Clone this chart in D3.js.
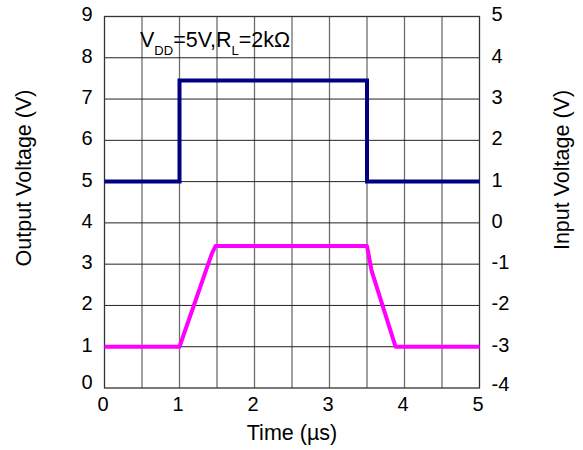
<!DOCTYPE html>
<html>
<head>
<meta charset="utf-8">
<script src="https://cdn.jsdelivr.net/npm/d3@7"></script>
<style>
  body { margin: 0; background: #fff; }
  svg text { font-family: "Liberation Sans", Arial, sans-serif; fill: #000; }
</style>
</head>
<body>
<svg width="583" height="450"></svg>
<script>
const [WIDTH, HEIGHT] = [583, 450];
const [LEFT, RIGHT, TOP, BOTTOM] = [104.5, 479.5, 16.5, 388];
const FONT = "20px";
const TITLE_FONT = "21.5px";

// data (time in µs, voltage on left axis)
const timeTicks = [0, 1, 2, 3, 4, 5];
const leftTicks = [0, 1, 2, 3, 4, 5, 6, 7, 8, 9];
const rightTicks = [-4, -3, -2, -1, 0, 1, 2, 3, 4, 5];
const gridX = [0.5, 1, 1.5, 2, 2.5, 3, 3.5, 4, 4.5];

const outTime = [0, 1, 1, 3.5, 3.5, 5];
const outVolt = [5, 5, 7.45, 7.45, 5, 5];

const inTime = [0, 1, 1.43, 1.48, 3.5, 3.56, 3.88, 5];
const inVolt = [1, 1, 3.25, 3.44, 3.44, 2.85, 1, 1];

const svg = d3.select("svg").attr("viewBox", `0 0 ${WIDTH} ${HEIGHT}`);

const x = d3.scaleLinear().domain([0, 5]).range([LEFT, RIGHT]);
const yL = d3.scaleLinear().domain([0, 9]).range([BOTTOM, TOP]);
const yR = d3.scaleLinear().domain([-4, 5]).range([BOTTOM, TOP]);

// grid
svg.append("g")
  .selectAll("line")
  .data(gridX)
  .enter()
  .append("line")
  .attr("x1", (d) => x(d))
  .attr("x2", (d) => x(d))
  .attr("y1", TOP)
  .attr("y2", BOTTOM)
  .attr("stroke", "#6e6e6e")
  .attr("stroke-width", 1.3);

svg.append("g")
  .selectAll("line")
  .data(leftTicks.slice(1, -1))
  .enter()
  .append("line")
  .attr("x1", LEFT)
  .attr("x2", RIGHT)
  .attr("y1", (d) => yL(d))
  .attr("y2", (d) => yL(d))
  .attr("stroke", "#222")
  .attr("stroke-width", 1);

// frame
svg.append("rect")
  .attr("x", LEFT)
  .attr("y", TOP)
  .attr("width", RIGHT - LEFT)
  .attr("height", BOTTOM - TOP)
  .attr("fill", "none")
  .attr("stroke", "#333")
  .attr("stroke-width", 1.3);

// axes
const styleAxis = (g) => {
  g.attr("font-size", null).attr("font-family", null);
  g.select(".domain").remove();
  g.selectAll(".tick line").remove();
  g.selectAll(".tick text")
    .style("font-size", FONT)
    .attr("fill", "#000");
};

svg.append("g")
  .attr("transform", `translate(0,${BOTTOM})`)
  .call(d3.axisBottom(x).tickValues(timeTicks).tickFormat((d) => `${d}`).tickSize(0).tickPadding(9))
  .call(styleAxis)
  .selectAll(".tick text")
  .attr("dx", -2);

svg.append("g")
  .attr("transform", `translate(${LEFT},0)`)
  .call(d3.axisLeft(yL).tickValues(leftTicks).tickFormat((d) => `${d}`).tickSize(0).tickPadding(12))
  .call(styleAxis)
  .selectAll(".tick text")
  .attr("y", (d) => (d === 0 ? -6 : -2));

svg.append("g")
  .attr("transform", `translate(${RIGHT},0)`)
  .call(d3.axisRight(yR).tickValues(rightTicks).tickFormat((d) => `${d}`).tickSize(0).tickPadding(12))
  .call(styleAxis)
  .selectAll(".tick text")
  .attr("y", (d) => (d === -4 ? -4 : -2));

// series
const line = d3.line().x((d) => x(d[0])).y((d) => yL(d[1]));

svg.append("path")
  .datum(d3.zip(inTime, inVolt))
  .attr("d", line)
  .attr("fill", "none")
  .attr("stroke", "#ff00ff")
  .attr("stroke-width", 4)
  .attr("stroke-linejoin", "round");

svg.append("path")
  .datum(d3.zip(outTime, outVolt))
  .attr("d", line)
  .attr("fill", "none")
  .attr("stroke", "#000080")
  .attr("stroke-width", 4)
  .attr("stroke-linejoin", "miter");

// labels
svg.append("text")
  .attr("x", 292)
  .attr("y", 440)
  .attr("text-anchor", "middle")
  .style("font-size", TITLE_FONT)
  .text("Time (\u00b5s)");

svg.append("text")
  .attr("transform", "translate(31,178) rotate(-90)")
  .attr("text-anchor", "middle")
  .style("font-size", TITLE_FONT)
  .text("Output Voltage (V)");

svg.append("text")
  .attr("transform", "translate(569,170) rotate(-90)")
  .attr("text-anchor", "middle")
  .style("font-size", TITLE_FONT)
  .text("Input Voltage (V)");

const note = svg.append("text")
  .attr("x", 140)
  .attr("y", 47)
  .style("font-size", TITLE_FONT);
note.append("tspan").text("V");
note.append("tspan").attr("dy", 8).style("font-size", "13px").text("DD");
note.append("tspan").attr("dy", -8).text("=5V,R");
note.append("tspan").attr("dy", 8).style("font-size", "13px").text("L");
note.append("tspan").attr("dy", -8).text("=2k\u03a9");
</script>
</body>
</html>
